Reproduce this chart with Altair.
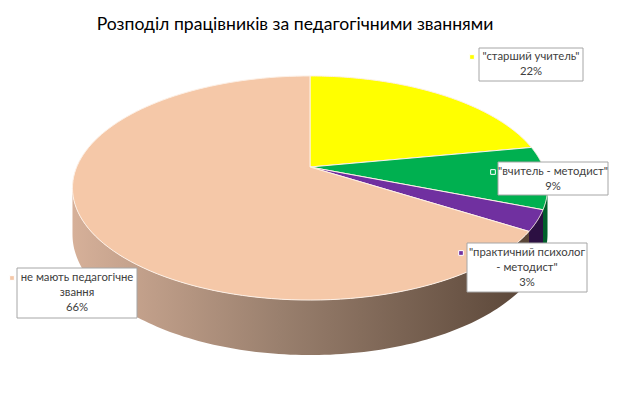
import altair as alt
import pandas as pd

# ---------------- data ----------------
categories = ['"старший учитель"', '"вчитель - методист"',
              '"практичний психолог - методист"', 'не мають педагогічне звання']
values = [22, 9, 3, 66]
label_lines = [['"старший учитель"'], ['"вчитель - методист"'],
               ['"практичний психолог', '- методист"'], ['не мають педагогічне', 'звання']]
title_text = "Розподіл працівників за педагогічними званнями"

# ---------------- styles / layout ----------------
top_colors = ['#ffff00', '#00b050', '#7030a0', '#f5c8a8']
side_colors = ['#8c8c00', '#005f2a', '#2c1042', '#a08070']
W, H = 606, 381
CX, CY = 302, 159          # projected pie centre (plot px)
A, B = 233.3, 108.1        # horizontal / vertical radius before perspective
K = 0.1875                 # perspective factor (back appears smaller)
D = 44.7                   # pie thickness before perspective
N = 120
# label layout (page pixels): box x1,y1,x2,y2 ; text centre x ; first line y ; marker x,y
label_layout = [
    (479, 48, 583, 81, 531, 57, 472, 57),
    (498, 162, 608, 195, 553, 172, 493, 172),
    (467, 243, 587, 292, 527, 253, 461, 253),
    (17, 268, 137, 318, 77, 278, 12, 278),
]
LINE_H = 15
FONT = "Lato"

total = sum(values)
slices = pd.DataFrame({
    "cat": categories, "value": values, "order": list(range(len(values))),
    "top_color": top_colors, "side_color": side_colors,
})

xs = alt.Scale(domain=[-CX, W - CX], nice=False, zero=False)
ys = alt.Scale(domain=[-(H - CY), CY], nice=False, zero=False)

base = alt.Chart(slices).transform_window(
    cum="sum(value)", sort=[alt.SortField("order")], frame=[None, 0]
).transform_joinaggregate(total="sum(value)").transform_calculate(
    start="(datum.cum - datum.value) / datum.total * 2 * PI",
    end="datum.cum / datum.total * 2 * PI",
)

# side walls (visible front part of the rim)
side_base = base.transform_calculate(
    s2=f"max(datum.start, acos(-{K}))", e2=f"min(datum.end, 2 * PI - acos(-{K}))"
).transform_filter("datum.e2 > datum.s2").transform_calculate(
    k=f"sequence(0, {N + 1})"
).transform_flatten(["k"]).transform_calculate(
    a=f"datum.s2 + (datum.e2 - datum.s2) * datum.k / {N}",
    w=f"1 + {K} * cos(datum.a)",
    px=f"{A} * sin(datum.a) / datum.w",
    py=f"{B} * cos(datum.a) / datum.w",
    py2=f"({B} * cos(datum.a) - {D}) / datum.w",
)
side_enc = dict(
    x=alt.X("px:Q", scale=xs, axis=None),
    y=alt.Y("py:Q", scale=ys, axis=None),
    y2="py2:Q",
    detail="cat:N",
)
side_grad = side_base.transform_filter("datum.order == 3").mark_area(
    color=alt.Gradient(
        gradient="linear",
        stops=[alt.GradientStop(color="#d6b099", offset=0),
               alt.GradientStop(color="#9a806e", offset=0.45),
               alt.GradientStop(color="#5a4638", offset=1)],
        x1=0, x2=1, y1=0, y2=0),
).encode(**side_enc)
side_other = side_base.transform_filter("datum.order != 3").mark_area().encode(
    fill=alt.Fill("side_color:N", scale=None), **side_enc)

# top faces
top = base.transform_calculate(k=f"sequence(-1, {N + 2})").transform_flatten(["k"]).transform_calculate(
    t=f"clamp(datum.k, 0, {N}) / {N}",
    r=f"(datum.k < 0 || datum.k > {N}) ? 0 : 1",
    a="datum.start + (datum.end - datum.start) * datum.t",
    w=f"1 + {K} * cos(datum.a) * datum.r",
    px=f"datum.r * {A} * sin(datum.a) / datum.w",
    py=f"datum.r * {B} * cos(datum.a) / datum.w",
).mark_line(filled=True, stroke="#fdf0e6", strokeWidth=1, strokeJoin="round").encode(
    x=alt.X("px:Q", scale=xs, axis=None),
    y=alt.Y("py:Q", scale=ys, axis=None),
    order="k:Q",
    detail="cat:N",
    fill=alt.Fill("top_color:N", scale=None),
)

# labels
boxes, texts, marks = [], [], []
for i, lay in enumerate(label_layout):
    bx1, by1, bx2, by2, tx, ty, mx, my = [v - 8 for v in lay]
    boxes.append({"x1": bx1, "y1": by1, "x2": bx2, "y2": by2})
    lines = label_lines[i] + [f"{round(values[i] / total * 100)}%"]
    for j, ln in enumerate(lines):
        texts.append({"tx": tx, "ty": ty + j * LINE_H, "txt": ln})
    marks.append({"mx": mx, "my": my, "c": top_colors[i]})

box_layer = alt.Chart(pd.DataFrame(boxes)).mark_rect(
    fill="white", stroke="#a6a6a6", strokeWidth=1).encode(
    x=alt.X("x1:Q", scale=None), x2="x2:Q",
    y=alt.Y("y1:Q", scale=None), y2="y2:Q")
text_layer = alt.Chart(pd.DataFrame(texts)).mark_text(
    font=FONT, fontSize=11.3, color="#404040", align="center", baseline="middle").encode(
    x=alt.X("tx:Q", scale=None), y=alt.Y("ty:Q", scale=None), text="txt:N")
mark_layer = alt.Chart(pd.DataFrame(marks)).mark_square(
    size=22, opacity=1, stroke="white", strokeWidth=1).encode(
    x=alt.X("mx:Q", scale=None), y=alt.Y("my:Q", scale=None),
    fill=alt.Fill("c:N", scale=None))
title_layer = alt.Chart(pd.DataFrame({"t": [title_text]})).mark_text(
    font=FONT, fontSize=17.6, color="#000000", align="center", baseline="middle").encode(
    x=alt.value(295 - 8), y=alt.value(25 - 8), text="t:N")

chart = alt.layer(side_grad, side_other, top, box_layer, mark_layer, text_layer, title_layer).resolve_scale(
    x="independent", y="independent"
).properties(
    width=W, height=H, autosize=alt.AutoSizeParams(type="none"), padding=0, background="white"
).configure_view(stroke=None)

chart.save("out.html", embed_options={"renderer": "svg", "actions": False})
